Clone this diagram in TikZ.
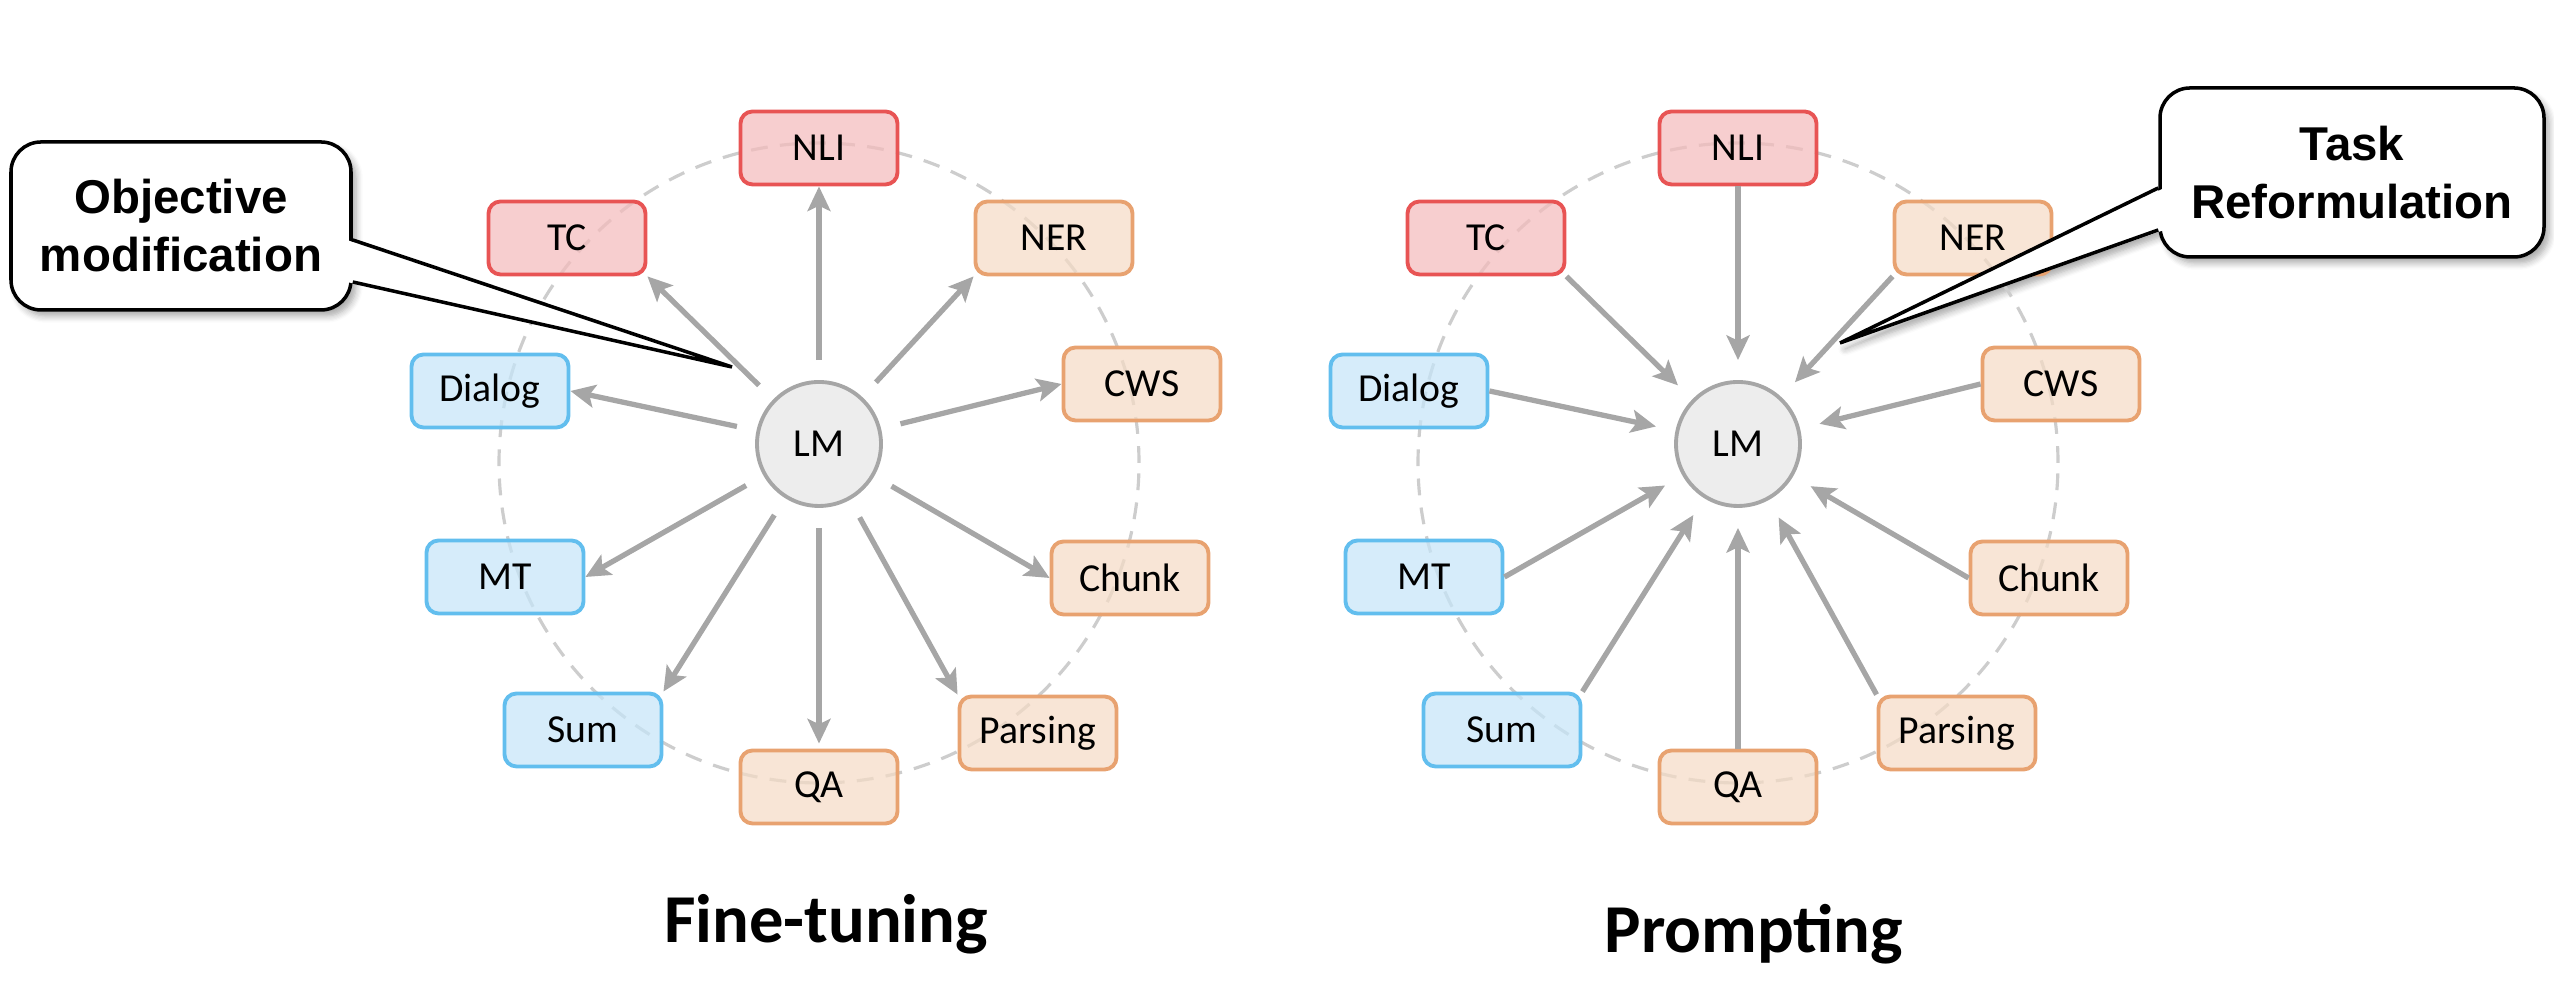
\documentclass[tikz,border=0pt]{standalone}
\usepackage{fontspec}
\setmainfont{Carlito}
\newfontfamily\calloutfont{Liberation Sans}
\usetikzlibrary{arrows.meta,calc,shadows.blur}
\pgfdeclarelayer{bg}
\pgfsetlayers{bg,main}

\definecolor{redfill}{RGB}{244,187,188}
\definecolor{redline}{RGB}{232,84,84}
\definecolor{bluefill}{RGB}{198,229,248}
\definecolor{blueline}{RGB}{98,190,238}
\definecolor{orgfill}{RGB}{245,219,198}
\definecolor{orgline}{RGB}{232,162,112}
\definecolor{lmfill}{RGB}{237,237,237}
\definecolor{lmline}{RGB}{166,166,166}
\definecolor{arrgray}{RGB}{166,166,166}
\definecolor{dashgray}{RGB}{205,205,205}

\tikzset{
 task/.style={rounded corners=0.12cm, minimum width=1.57cm, minimum height=0.73cm, line width=1.1pt,
   font=\fontsize{11.3}{13}\selectfont, inner sep=0pt, fill opacity=0.72, text opacity=1},
 redtask/.style={task, draw=redline, fill=redfill},
 bluetask/.style={task, draw=blueline, fill=bluefill},
 orgtask/.style={task, draw=orgline, fill=orgfill},
 lm/.style={circle, minimum size=1.24cm, draw=lmline, fill=lmfill, line width=1.1pt, font=\fontsize{11.3}{13}\selectfont, inner sep=0pt},
 arr/.style={draw=arrgray, line width=1.5pt, -{Stealth[length=7pt,width=6.5pt,inset=1.5pt]}},
 ring/.style={draw=dashgray, line width=0.9pt, dash pattern=on 4.8pt off 3.5pt},
 callout/.style={draw=black, fill=white, line width=1pt, rounded corners=0.3cm, align=center,
   font=\calloutfont\bfseries\fontsize{13.5}{16.5}\selectfont, inner sep=0pt,
   blur shadow={shadow xshift=0.05cm, shadow yshift=-0.06cm, shadow blur steps=6, shadow opacity=35}},
 ptrshadow/.style={fill=white, blur shadow={shadow xshift=0.05cm, shadow yshift=-0.06cm, shadow blur steps=6, shadow opacity=35}},
 title/.style={font=\bfseries\fontsize{19.5}{22}\selectfont, anchor=base},
}

\begin{document}
\begin{tikzpicture}
\useasboundingbox (0,0) rectangle (25.54,10);

% dashed rings behind the task boxes
\draw[ring] (8.19,5.37) circle (3.2);
\draw[ring] (17.38,5.37) circle (3.2);

% the two star diagrams
\foreach \p/\dx in {L/0, R/9.19} {
 \begin{scope}[xshift=\dx cm]
  \node[lm] (\p-LM) at (8.19,5.56) {LM};
  \node[redtask] (\p-NLI) at (8.19,8.52) {NLI};
  \node[redtask] (\p-TC) at (5.67,7.62) {TC};
  \node[orgtask] (\p-NER) at (10.54,7.62) {NER};
  \node[bluetask] (\p-Dialog) at (4.90,6.09) {Dialog};
  \node[orgtask] (\p-CWS) at (11.42,6.16) {CWS};
  \node[bluetask] (\p-MT) at (5.05,4.23) {MT};
  \node[orgtask] (\p-Chunk) at (11.30,4.22) {Chunk};
  \node[bluetask] (\p-Sum) at (5.83,2.70) {Sum};
  \node[orgtask] (\p-Parsing) at (10.38,2.67) {Parsing};
  \node[orgtask] (\p-QA) at (8.19,2.13) {QA};
 \end{scope}
}

% fine-tuning: LM -> tasks
\begin{scope}[shorten <=0.2cm]
 \draw[arr] (L-LM) -- (L-NLI.south);
 \draw[arr] (L-LM) -- (L-TC.south east);
 \draw[arr] (L-LM) -- (L-NER.south west);
 \draw[arr] (L-LM) -- (L-Dialog.east);
 \draw[arr] (L-LM) -- (L-CWS.west);
 \draw[arr] (L-LM) -- (L-MT.east);
 \draw[arr] (L-LM) -- (L-Chunk.west);
 \draw[arr] (L-LM) -- (L-Sum.north east);
 \draw[arr] (L-LM) -- (L-Parsing.north west);
 \draw[arr, shorten >=0.05cm] (L-LM) -- (L-QA.north);
\end{scope}

% prompting: tasks -> LM
\begin{scope}[shorten >=0.2cm]
 \draw[arr] (R-NLI.south) -- (R-LM);
 \draw[arr] (R-TC.south east) -- (R-LM);
 \draw[arr] (R-NER.south west) -- (R-LM);
 \draw[arr] (R-Dialog.east) -- (R-LM);
 \draw[arr] (R-CWS.west) -- (R-LM);
 \draw[arr] (R-MT.east) -- (R-LM);
 \draw[arr] (R-Chunk.west) -- (R-LM);
 \draw[arr] (R-Sum.north east) -- (R-LM);
 \draw[arr] (R-Parsing.north west) -- (R-LM);
 \draw[arr] (R-QA.north) -- (R-LM);
\end{scope}

% callout: Objective modification
\node[callout, minimum width=3.40cm, minimum height=1.68cm] (obj) at (1.81,7.74) {Objective\\modification};
\coordinate (objtip) at (7.32,6.33);
\coordinate (objA) at ($(obj.east)+(0,-0.14)$);
\coordinate (objB) at ($(obj.east)+(0,-0.56)$);
\begin{pgfonlayer}{bg}
 \path[ptrshadow] (objA) -- (objtip) -- (objB) -- cycle;
\end{pgfonlayer}
\fill[white] ($(objA)+(-0.06,0)$) -- (objtip) -- ($(objB)+(-0.06,0)$) -- cycle;
\draw[line width=1pt] (objA) -- (objtip) -- (objB);

% callout: Task Reformulation
\node[callout, minimum width=3.84cm, minimum height=1.69cm] (task) at (23.52,8.275) {Task\\Reformulation};
\coordinate (tasktip) at (18.40,6.57);
\coordinate (taskA) at ($(task.west)+(0,-0.155)$);
\coordinate (taskB) at ($(task.west)+(0,-0.575)$);
\begin{pgfonlayer}{bg}
 \path[ptrshadow] (taskA) -- (tasktip) -- (taskB) -- cycle;
\end{pgfonlayer}
\fill[white] ($(taskA)+(0.06,0)$) -- (tasktip) -- ($(taskB)+(0.06,0)$) -- cycle;
\draw[line width=1pt] (taskA) -- (tasktip) -- (taskB);

% titles
\node[title] (ft) at (8.26,0.57) {Fine-tuning};
\node[title] (pr) at (17.54,0.47) {Prompting};
\end{tikzpicture}
\end{document}
